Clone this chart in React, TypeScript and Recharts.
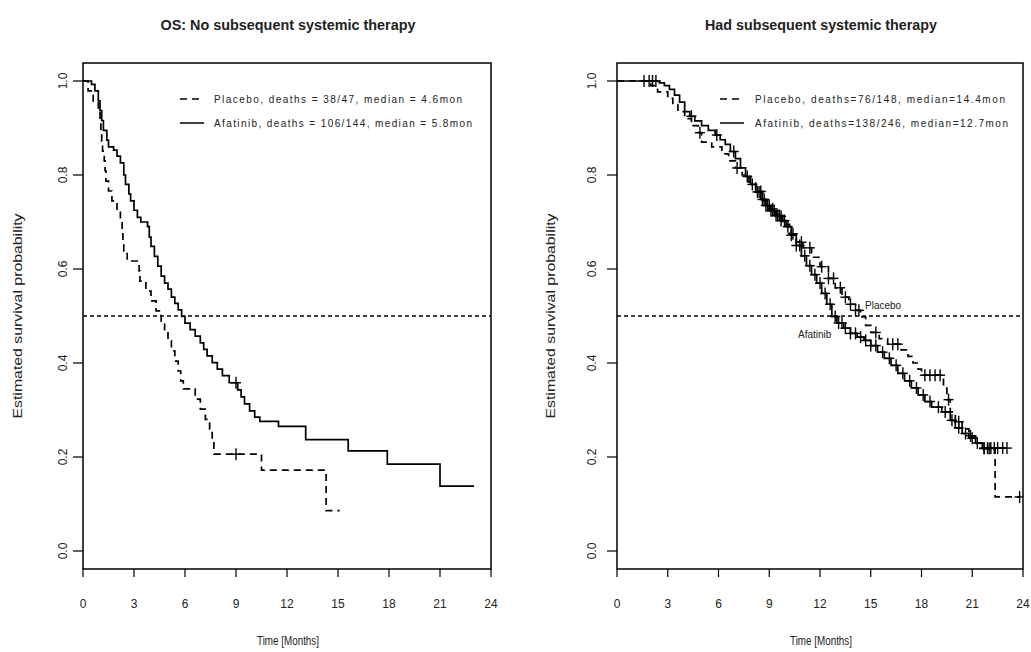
import { ComposedChart, Line, Scatter, XAxis, YAxis, ReferenceLine, ReferenceArea } from "recharts";

type Pt = [number, number];

// OS, no subsequent systemic therapy: [time in months, survival]
const noTxPlacebo: Pt[] = [
  [0, 1], [0.3, 0.979], [0.6, 0.957], [0.9, 0.936], [1.0, 0.915], [1.05, 0.894], [1.1, 0.872],
  [1.15, 0.851], [1.25, 0.83], [1.3, 0.809], [1.35, 0.787], [1.5, 0.766], [1.7, 0.745], [2.0, 0.723],
  [2.2, 0.702], [2.3, 0.681], [2.35, 0.66], [2.4, 0.638], [2.6, 0.617], [3.3, 0.596], [3.35, 0.574],
  [3.7, 0.553], [4.0, 0.532], [4.3, 0.511], [4.6, 0.489], [4.8, 0.468], [5.0, 0.447], [5.2, 0.426],
  [5.4, 0.404], [5.6, 0.383], [5.75, 0.362], [5.9, 0.345], [6.6, 0.323], [6.9, 0.302], [7.2, 0.28],
  [7.45, 0.259], [7.6, 0.232], [7.7, 0.206], [10.5, 0.172], [14.3, 0.086], [15.1, 0.086],
];
const noTxAfatinib: Pt[] = [
  [0, 1], [0.5, 0.993], [0.7, 0.979], [0.9, 0.958], [1.0, 0.937], [1.1, 0.916], [1.2, 0.895],
  [1.4, 0.874], [1.5, 0.86], [1.8, 0.853], [2.0, 0.84], [2.2, 0.826], [2.4, 0.8], [2.5, 0.78],
  [2.7, 0.76], [2.8, 0.745], [3.0, 0.725], [3.2, 0.71], [3.4, 0.7], [3.8, 0.69], [3.9, 0.668],
  [4.0, 0.648], [4.2, 0.627], [4.4, 0.606], [4.6, 0.585], [4.8, 0.57], [5.0, 0.557], [5.2, 0.54],
  [5.4, 0.527], [5.6, 0.513], [5.8, 0.499], [6.0, 0.485], [6.3, 0.471], [6.6, 0.457], [6.9, 0.443],
  [7.1, 0.429], [7.3, 0.415], [7.6, 0.401], [7.9, 0.387], [8.2, 0.373], [8.6, 0.358], [9.1, 0.343],
  [9.3, 0.328], [9.5, 0.313], [9.8, 0.298], [10.1, 0.285], [10.4, 0.276], [11.5, 0.265],
  [13.1, 0.237], [15.6, 0.213], [17.9, 0.185], [21.0, 0.138], [23.0, 0.138],
];
const noTxPlaceboCensor = [9.0];
const noTxAfatinibCensor = [9.0];

// OS, had subsequent systemic therapy
const hadTxPlacebo: Pt[] = [
  [0, 1], [2.0, 0.99], [2.4, 0.977], [3.0, 0.963], [3.3, 0.95], [3.6, 0.935], [4.0, 0.92],
  [4.4, 0.905], [4.8, 0.89], [5.0, 0.87], [5.6, 0.86], [6.2, 0.845], [6.6, 0.83], [7.0, 0.815],
  [7.4, 0.8], [7.8, 0.785], [8.2, 0.765], [8.6, 0.745], [9.0, 0.728], [9.4, 0.712], [9.8, 0.695],
  [10.2, 0.675], [10.6, 0.657], [11.0, 0.645], [11.5, 0.625], [12.0, 0.605], [12.5, 0.58],
  [12.9, 0.56], [13.3, 0.54], [13.7, 0.525], [14.1, 0.512], [14.4, 0.498], [14.7, 0.48],
  [15.0, 0.465], [15.5, 0.452], [16.0, 0.44], [16.8, 0.428], [17.2, 0.414], [17.5, 0.4],
  [17.8, 0.387], [18.0, 0.374], [19.3, 0.349], [19.5, 0.322], [19.7, 0.296], [20.0, 0.275],
  [20.4, 0.26], [20.8, 0.245], [21.2, 0.23], [21.5, 0.218], [22.35, 0.115], [23.8, 0.115],
];
const hadTxAfatinib: Pt[] = [
  [0, 1], [2.5, 0.996], [2.8, 0.99], [3.1, 0.982], [3.4, 0.97], [3.7, 0.955], [4.0, 0.935],
  [4.3, 0.925], [4.6, 0.915], [5.0, 0.905], [5.4, 0.895], [5.8, 0.885], [6.1, 0.875], [6.4, 0.865],
  [6.7, 0.85], [7.0, 0.835], [7.3, 0.815], [7.6, 0.797], [7.9, 0.78], [8.2, 0.764], [8.5, 0.748],
  [8.8, 0.735], [9.1, 0.724], [9.4, 0.714], [9.7, 0.703], [10.0, 0.69], [10.3, 0.672], [10.6, 0.65],
  [10.9, 0.628], [11.2, 0.607], [11.5, 0.588], [11.8, 0.57], [12.1, 0.548], [12.4, 0.525],
  [12.7, 0.499], [13.0, 0.485], [13.4, 0.474], [13.8, 0.463], [14.2, 0.455], [14.6, 0.448],
  [15.0, 0.437], [15.4, 0.423], [15.8, 0.41], [16.2, 0.395], [16.6, 0.378], [17.0, 0.362],
  [17.4, 0.347], [17.8, 0.332], [18.2, 0.318], [18.6, 0.306], [19.2, 0.296], [19.7, 0.278],
  [20.0, 0.262], [20.4, 0.25], [20.8, 0.24], [21.2, 0.23], [21.6, 0.219], [23.05, 0.219],
];
const hadTxPlaceboCensor = [
  1.6, 4.9, 7.1, 8.5, 9.2, 9.7, 10.4, 10.9, 11.4, 12.1, 12.5, 12.8, 13.2, 13.5, 13.8, 14.1, 14.3,
  15.3, 16.3, 16.6, 18.2, 18.5, 18.8, 19.1, 19.6, 20.2, 20.9, 21.7, 22.0, 23.8,
];
const hadTxAfatinibCensor = [
  1.9, 2.1, 2.3, 4.4, 5.9, 6.9, 7.7, 8.0, 8.3, 8.4, 8.6, 8.7, 8.8, 8.9, 9.0, 9.1, 9.2, 9.3, 9.4,
  9.5, 9.6, 9.7, 9.9, 10.1, 10.3, 10.6, 10.8, 11.1, 11.4, 11.7, 12.0, 12.3, 12.6, 12.9, 13.1, 13.3,
  13.5, 13.8, 14.1, 14.4, 14.7, 15.0, 15.3, 15.7, 16.1, 16.5, 16.9, 17.3, 17.7, 18.1, 18.5, 19.0,
  19.4, 19.8, 20.2, 20.6, 21.0, 21.3, 21.7, 21.9, 22.1, 22.3, 22.5, 22.8, 23.05,
];

const xTicks = [0, 3, 6, 9, 12, 15, 18, 21, 24];
const yTicks = [0, 0.2, 0.4, 0.6, 0.8, 1.0];
const Y_MIN = -0.0383;
const Y_MAX = 1.0383;

const toPts = (p: Pt[]) => p.map(([t, s]) => ({ t, s }));
const survAt = (p: Pt[], t: number) => {
  let s = p[0][1];
  for (const [pt, ps] of p) if (pt <= t) s = ps;
  return s;
};
const censorPts = (p: Pt[], times: number[]) => times.map((t) => ({ t, s: survAt(p, t) }));

const Plus = (props: any) => {
  const { cx, cy } = props;
  if (cx == null || cy == null) return null;
  return (
    <g stroke="#000" strokeWidth={1.4}>
      <line x1={cx - 5} y1={cy} x2={cx + 5} y2={cy} />
      <line x1={cx} y1={cy - 6} x2={cx} y2={cy + 6} />
    </g>
  );
};

const YTick = (props: any) => {
  const { x, y, payload } = props;
  return (
    <text
      x={x}
      y={y}
      transform={`rotate(-90, ${x}, ${y})`}
      textAnchor="middle"
      dominantBaseline="central"
      fontSize={12}
      fill="#222"
      fontFamily="Liberation Sans, Arial, sans-serif"
    >
      {Number(payload.value).toFixed(1)}
    </text>
  );
};

const narrow = "Liberation Sans Narrow, Liberation Sans, Arial, sans-serif";
const axisFont = { fontSize: 12, fill: "#222", fontFamily: narrow };

function KMPanel(props: {
  width: number;
  marginLeft: number;
  marginRight: number;
  yTickMargin: number;
  placebo: Pt[];
  afatinib: Pt[];
  placeboCensor: number[];
  afatinibCensor: number[];
}) {
  const { width, marginLeft, marginRight, yTickMargin, placebo, afatinib, placeboCensor, afatinibCensor } = props;
  return (
    <ComposedChart
      width={width}
      height={652}
      margin={{ top: 63, right: marginRight, bottom: 53, left: marginLeft }}
    >
      <XAxis
        type="number"
        dataKey="t"
        domain={[0, 24]}
        ticks={xTicks}
        allowDataOverflow
        axisLine={false}
        tickLine={{ stroke: "#000", strokeWidth: 1.2 }}
        tickSize={8}
        tickMargin={22}
        height={30}
        tick={axisFont}
        interval={0}
      />
      <YAxis
        type="number"
        dataKey="s"
        domain={[Y_MIN, Y_MAX]}
        ticks={yTicks}
        allowDataOverflow
        axisLine={false}
        tickLine={{ stroke: "#000", strokeWidth: 1.2 }}
        tickSize={10}
        tickMargin={yTickMargin}
        width={30}
        tick={<YTick />}
        interval={0}
      />
      <ReferenceArea
        x1={0}
        x2={24}
        y1={Y_MIN}
        y2={Y_MAX}
        fill="none"
        fillOpacity={0}
        stroke="#000"
        strokeWidth={1.5}
        ifOverflow="visible"
      />
      <ReferenceLine y={0.5} stroke="#000" strokeWidth={1.4} strokeDasharray="4 3" />
      <Line
        data={toPts(placebo)}
        dataKey="s"
        type="stepAfter"
        stroke="#000"
        strokeWidth={1.7}
        strokeDasharray="7 5"
        dot={false}
        isAnimationActive={false}
      />
      <Line
        data={toPts(afatinib)}
        dataKey="s"
        type="stepAfter"
        stroke="#000"
        strokeWidth={1.7}
        dot={false}
        isAnimationActive={false}
      />
      <Scatter data={censorPts(placebo, placeboCensor)} dataKey="s" shape={<Plus />} isAnimationActive={false} />
      <Scatter data={censorPts(afatinib, afatinibCensor)} dataKey="s" shape={<Plus />} isAnimationActive={false} />
    </ComposedChart>
  );
}

const legendFont = "Liberation Sans, Arial, sans-serif";

export default function App() {
  return (
    <div style={{ position: "absolute", left: 0, top: 0, width: 1031, height: 652, background: "#fff" }}>
      <div style={{ position: "absolute", left: 0, top: 0 }}>
        <KMPanel
          width={515}
          marginLeft={53}
          marginRight={24}
          yTickMargin={10}
          placebo={noTxPlacebo}
          afatinib={noTxAfatinib}
          placeboCensor={noTxPlaceboCensor}
          afatinibCensor={noTxAfatinibCensor}
        />
      </div>
      <div style={{ position: "absolute", left: 515, top: 0 }}>
        <KMPanel
          width={516}
          marginLeft={72}
          marginRight={8}
          yTickMargin={15}
          placebo={hadTxPlacebo}
          afatinib={hadTxAfatinib}
          placeboCensor={hadTxPlaceboCensor}
          afatinibCensor={hadTxAfatinibCensor}
        />
      </div>
      <svg width={1031} height={652} style={{ position: "absolute", left: 0, top: 0, pointerEvents: "none" }}>
        <g fontFamily={legendFont} fill="#222">
          <text x={288} y={30} textAnchor="middle" fontSize={14.5} fontWeight="bold" textLength={255} lengthAdjust="spacingAndGlyphs">
            OS: No subsequent systemic therapy
          </text>
          <text x={821} y={30} textAnchor="middle" fontSize={14.5} fontWeight="bold" textLength={232} lengthAdjust="spacingAndGlyphs">
            Had subsequent systemic therapy
          </text>
          <text x={18} y={316} textAnchor="middle" dominantBaseline="central" fontSize={12} transform="rotate(-90, 18, 316)" textLength={205} lengthAdjust="spacingAndGlyphs">
            Estimated survival probability
          </text>
          <text x={551} y={316} textAnchor="middle" dominantBaseline="central" fontSize={12} transform="rotate(-90, 551, 316)" textLength={205} lengthAdjust="spacingAndGlyphs">
            Estimated survival probability
          </text>
          <text x={288} y={645} textAnchor="middle" fontSize={12} fontFamily={narrow} textLength={62} lengthAdjust="spacingAndGlyphs">
            Time [Months]
          </text>
          <text x={821} y={645} textAnchor="middle" fontSize={12} fontFamily={narrow} textLength={62} lengthAdjust="spacingAndGlyphs">
            Time [Months]
          </text>

          <line x1={180} y1={99} x2={204} y2={99} stroke="#000" strokeWidth={1.5} strokeDasharray="7 5" />
          <line x1={180} y1={123} x2={204} y2={123} stroke="#000" strokeWidth={1.5} />
          <text x={214} y={99} dominantBaseline="central" fontSize={10} textLength={248} lengthAdjust="spacing">
            Placebo, deaths = 38/47, median = 4.6mon
          </text>
          <text x={214} y={123} dominantBaseline="central" fontSize={10} textLength={258} lengthAdjust="spacing">
            Afatinib, deaths = 106/144, median = 5.8mon
          </text>

          <line x1={720} y1={99} x2={744} y2={99} stroke="#000" strokeWidth={1.5} strokeDasharray="7 5" />
          <line x1={720} y1={123} x2={744} y2={123} stroke="#000" strokeWidth={1.5} />
          <text x={755} y={99} dominantBaseline="central" fontSize={10} textLength={250} lengthAdjust="spacing">
            Placebo, deaths=76/148, median=14.4mon
          </text>
          <text x={755} y={123} dominantBaseline="central" fontSize={10} textLength={253} lengthAdjust="spacing">
            Afatinib, deaths=138/246, median=12.7mon
          </text>

          <text x={865} y={305} dominantBaseline="central" fontSize={10}>
            Placebo
          </text>
          <text x={798} y={334} dominantBaseline="central" fontSize={10}>
            Afatinib
          </text>
        </g>
      </svg>
    </div>
  );
}
